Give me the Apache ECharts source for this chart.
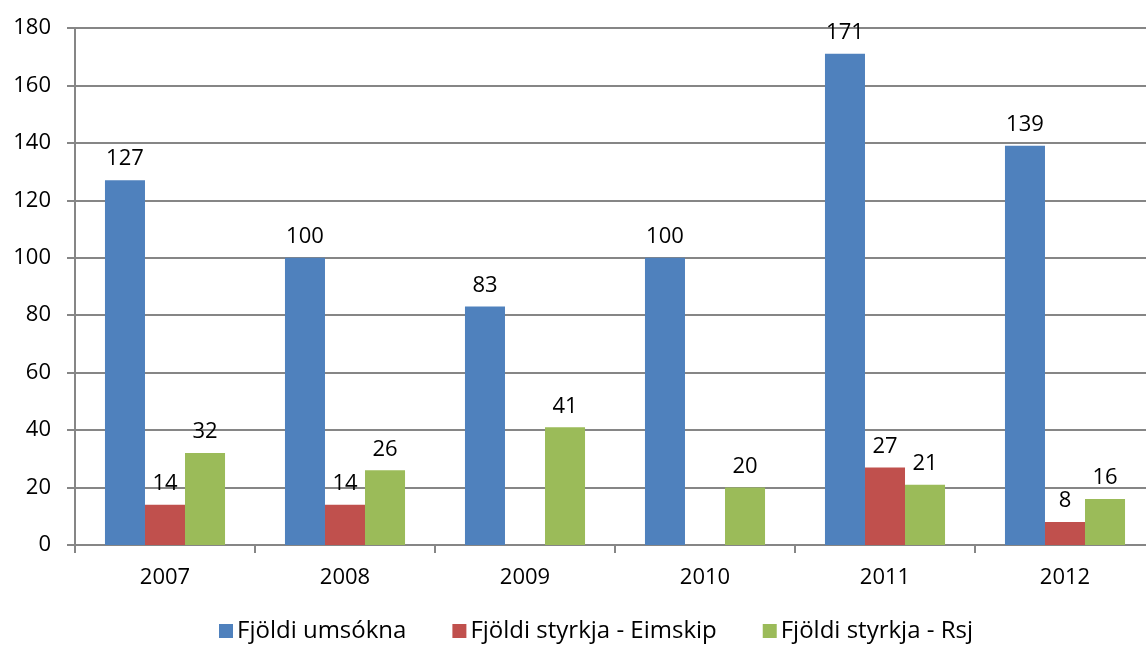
<!DOCTYPE html>
<html><head><meta charset="utf-8">
<script src="https://cdn.jsdelivr.net/npm/echarts@6/dist/echarts.min.js"></script>
<style>html,body{margin:0;padding:0;background:#fff;overflow:hidden;width:1146px;height:648px}#c{width:1160px;height:648px}</style>
</head><body><div id="c"></div>
<script>
const categories = ['2007','2008','2009','2010','2011','2012'];
const umsoknir = [127,100,83,100,171,139];
const eimskip = [14,14,null,null,27,8];
const rsj = [32,26,41,20,21,16];
const yTicks = {min:0,max:180,interval:20};
const seriesNames = ['Fjöldi umsókna','Fjöldi styrkja - Eimskip','Fjöldi styrkja - Rsj'];

const FONT = '"Open Sans", "Noto Sans", sans-serif';
const FS = 22;
const chart = echarts.init(document.getElementById('c'));
const lbl = {show:true, position:'top', distance:10, color:'#000', fontSize:FS, fontFamily:FONT};
chart.setOption({
  animation:false,
  grid:{left:75, top:28, width:1080, height:517, containLabel:false},
  legend:{bottom:0, left:214, itemWidth:14, itemHeight:14, itemGap:46, icon:'rect',
    textStyle:{fontSize:24, fontFamily:FONT, color:'#000', padding:[0,0,0,-1]}},
  xAxis:{type:'category', data:categories,
    axisLine:{lineStyle:{color:'#868686', width:2}},
    axisTick:{show:true, length:8, lineStyle:{color:'#868686', width:2}},
    axisLabel:{color:'#000', fontSize:FS, fontFamily:FONT, margin:22}},
  yAxis:{type:'value', min:yTicks.min, max:yTicks.max, interval:yTicks.interval,
    axisLine:{show:true, lineStyle:{color:'#868686', width:2}},
    axisTick:{show:true, length:8, lineStyle:{color:'#868686', width:2}},
    splitLine:{lineStyle:{color:'#868686', width:2}},
    axisLabel:{color:'#000', fontSize:FS, fontFamily:FONT, margin:24}},
  series:[
    {name:seriesNames[0], type:'bar', data:umsoknir, itemStyle:{color:'#4F81BD'}, label:lbl, barCategoryGap:'33.3%', barGap:'0%'},
    {name:seriesNames[1], type:'bar', data:eimskip, itemStyle:{color:'#C0504D'}, label:lbl, barGap:'0%'},
    {name:seriesNames[2], type:'bar', data:rsj, itemStyle:{color:'#9BBB59'}, label:lbl, barGap:'0%'}
  ]
});
</script></body></html>
